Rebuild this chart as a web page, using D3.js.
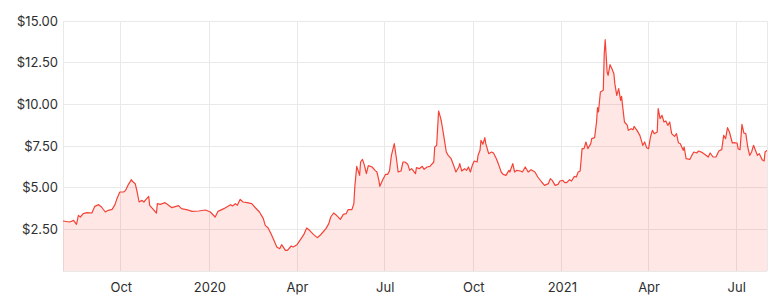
<!DOCTYPE html>
<html>
<head>
<meta charset="utf-8">
<script src="https://cdn.jsdelivr.net/npm/d3@7"></script>
<style>
  body { margin: 0; background: #fff; }
  svg text { font-family: "Inter", "Open Sans", sans-serif; fill: #2e2e2e; }
</style>
</head>
<body>
<div id="chart"></div>
<script>
// daily closes (irregular sampling)
var dates = [
  "2019-08-02","2019-08-09","2019-08-13","2019-08-16","2019-08-18","2019-08-20","2019-08-23","2019-08-27",
  "2019-09-01","2019-09-04","2019-09-08","2019-09-11","2019-09-15","2019-09-18","2019-09-22","2019-09-25",
  "2019-09-27","2019-09-30","2019-10-04","2019-10-06","2019-10-09","2019-10-12","2019-10-13","2019-10-16",
  "2019-10-18","2019-10-20","2019-10-23","2019-10-25","2019-10-27","2019-10-30","2019-10-31","2019-11-03",
  "2019-11-07","2019-11-08","2019-11-11","2019-11-16","2019-11-19","2019-11-23","2019-11-30","2019-12-03",
  "2019-12-08","2019-12-11","2019-12-14","2019-12-21","2019-12-28","2020-01-02","2020-01-07","2020-01-10",
  "2020-01-16","2020-01-19","2020-01-23","2020-01-25","2020-01-28","2020-01-30","2020-02-02","2020-02-05",
  "2020-02-09","2020-02-14","2020-02-18","2020-02-22","2020-02-26","2020-02-28","2020-03-02","2020-03-05",
  "2020-03-08","2020-03-11","2020-03-14","2020-03-16","2020-03-20","2020-03-22","2020-03-26","2020-03-28",
  "2020-04-01","2020-04-04","2020-04-08","2020-04-11","2020-04-14","2020-04-18","2020-04-22","2020-04-25",
  "2020-04-28","2020-05-01","2020-05-04","2020-05-06","2020-05-09","2020-05-12","2020-05-16","2020-05-19",
  "2020-05-22","2020-05-24","2020-05-28","2020-05-30","2020-05-31","2020-06-02","2020-06-05","2020-06-06",
  "2020-06-08","2020-06-10","2020-06-12","2020-06-14","2020-06-18","2020-06-21","2020-06-23","2020-06-25",
  "2020-06-26","2020-06-29","2020-07-02","2020-07-04","2020-07-06","2020-07-08","2020-07-11","2020-07-13",
  "2020-07-15","2020-07-18","2020-07-20","2020-07-22","2020-07-25","2020-07-27","2020-07-29","2020-08-02",
  "2020-08-03","2020-08-06","2020-08-09","2020-08-11","2020-08-14","2020-08-17","2020-08-21","2020-08-22",
  "2020-08-24","2020-08-26","2020-08-28","2020-08-29","2020-08-31","2020-09-03","2020-09-05","2020-09-08",
  "2020-09-10","2020-09-13","2020-09-16","2020-09-17","2020-09-19","2020-09-22","2020-09-24","2020-09-26",
  "2020-09-28","2020-09-30","2020-10-02","2020-10-05","2020-10-06","2020-10-08","2020-10-09","2020-10-11",
  "2020-10-13","2020-10-14","2020-10-17","2020-10-20","2020-10-22","2020-10-25","2020-10-27","2020-10-30",
  "2020-11-01","2020-11-04","2020-11-07","2020-11-08","2020-11-11","2020-11-13","2020-11-15","2020-11-19",
  "2020-11-21","2020-11-24","2020-11-27","2020-11-30","2020-12-04","2020-12-07","2020-12-11","2020-12-14",
  "2020-12-18","2020-12-20","2020-12-22","2020-12-25","2020-12-28","2020-12-30","2021-01-02","2021-01-04",
  "2021-01-06","2021-01-09","2021-01-11","2021-01-14","2021-01-16","2021-01-18","2021-01-20","2021-01-22",
  "2021-01-24","2021-01-26","2021-01-28","2021-01-31","2021-02-01","2021-02-04","2021-02-06","2021-02-07",
  "2021-02-08","2021-02-10","2021-02-13","2021-02-14","2021-02-15","2021-02-17","2021-02-18","2021-02-20",
  "2021-02-22","2021-02-24","2021-02-25","2021-02-27","2021-03-01","2021-03-03","2021-03-04","2021-03-05",
  "2021-03-07","2021-03-10","2021-03-11","2021-03-14","2021-03-16","2021-03-17","2021-03-20","2021-03-23",
  "2021-03-26","2021-03-28","2021-03-30","2021-04-01","2021-04-03","2021-04-05","2021-04-07","2021-04-10",
  "2021-04-11","2021-04-13","2021-04-15","2021-04-17","2021-04-19","2021-04-21","2021-04-23","2021-04-25",
  "2021-04-28","2021-04-30","2021-05-02","2021-05-04","2021-05-07","2021-05-08","2021-05-10","2021-05-14",
  "2021-05-16","2021-05-18","2021-05-21","2021-05-23","2021-05-27","2021-05-30","2021-06-02","2021-06-04",
  "2021-06-07","2021-06-10","2021-06-13","2021-06-16","2021-06-18","2021-06-20","2021-06-22","2021-06-24",
  "2021-06-27","2021-06-29","2021-07-02","2021-07-03","2021-07-05","2021-07-07","2021-07-09","2021-07-11",
  "2021-07-13","2021-07-15","2021-07-17","2021-07-19","2021-07-21","2021-07-23","2021-07-25","2021-07-28",
  "2021-07-30","2021-07-31","2021-08-02"
];
var prices = [
  3.00,2.94,3.04,2.80,3.34,3.24,3.44,3.50,
  3.48,3.88,3.98,3.84,3.54,3.64,3.70,3.98,
  4.34,4.74,4.74,4.84,5.20,5.48,5.38,5.24,
  4.74,4.14,4.24,4.14,4.28,4.48,3.94,3.74,
  3.48,4.04,4.00,4.10,3.98,3.80,3.92,3.74,
  3.68,3.64,3.58,3.60,3.66,3.54,3.24,3.58,
  3.74,3.84,3.98,3.90,4.04,3.94,4.30,4.14,
  4.10,4.04,3.78,3.54,3.14,2.74,2.58,2.24,
  1.84,1.44,1.34,1.58,1.24,1.24,1.50,1.44,
  1.58,1.84,2.18,2.58,2.44,2.20,2.00,2.14,
  2.34,2.54,2.84,3.24,3.48,3.34,3.10,3.40,
  3.44,3.68,3.68,4.04,5.04,6.28,5.74,6.54,
  6.70,6.34,5.84,6.32,6.24,6.04,5.94,5.44,
  5.08,5.48,5.80,5.80,6.00,6.94,7.64,6.84,
  5.94,6.00,6.54,6.54,6.40,6.04,6.14,5.84,
  6.20,6.14,6.28,6.10,6.24,6.28,6.54,7.44,
  7.54,9.60,9.20,8.94,8.24,7.14,6.94,6.74,
  6.44,5.94,6.24,6.44,6.00,6.14,6.04,6.24,
  5.94,6.34,6.60,6.54,6.94,7.24,7.84,7.60,
  8.00,7.64,7.04,7.14,7.08,6.74,6.44,5.94,
  5.80,5.74,6.04,5.94,6.44,5.94,6.04,6.00,
  5.94,6.24,5.94,6.08,5.94,5.64,5.34,5.14,
  5.24,5.54,5.44,5.14,5.20,5.40,5.44,5.30,
  5.30,5.48,5.40,5.68,5.64,5.94,6.00,7.34,
  7.34,7.74,7.34,7.64,7.94,8.00,8.94,9.80,
  9.54,10.74,10.84,13.04,13.88,11.94,11.74,12.38,
  12.14,11.84,11.24,10.54,10.94,10.24,10.48,9.94,
  8.94,8.74,8.44,8.54,8.48,8.68,8.44,8.14,
  7.54,7.74,7.40,7.34,8.04,8.44,8.24,8.34,
  9.74,9.14,9.34,8.94,9.00,8.74,8.94,8.24,
  8.08,8.24,7.70,7.64,7.24,7.44,6.74,6.70,
  6.94,7.14,7.08,7.20,7.10,6.98,6.84,7.08,
  6.84,6.84,7.20,7.28,8.14,7.94,8.60,8.34,
  7.68,7.70,7.68,7.34,7.28,8.80,8.28,8.24,
  7.44,6.94,7.14,7.54,7.24,6.94,7.04,6.68,
  6.60,7.14,7.24
];
var yTicks = [0, 2.5, 5, 7.5, 10, 12.5, 15];
var dateRange = ["2019-08-02", "2021-08-02"];

var width = 780, height = 301;
var margin = {top: 21, right: 13, bottom: 30, left: 63};
var lineColor = "#f44336";
var parse = d3.timeParse("%Y-%m-%d");

var data = dates.map(function(d, i) { return {date: parse(d), value: prices[i]}; });

var x = d3.scaleTime()
  .domain(dateRange.map(parse))
  .range([margin.left, width - margin.right]);
var y = d3.scaleLinear()
  .domain([0, 15])
  .range([height - margin.bottom, margin.top]);

var svg = d3.select("#chart").append("svg")
  .attr("width", width)
  .attr("height", height);

var xTicks = x.ticks(d3.timeMonth.every(3));

// grid
var grid = svg.append("g").attr("class", "grid")
  .attr("stroke", "#e9e9e9")
  .attr("stroke-width", 1)
  .attr("shape-rendering", "crispEdges");
grid.selectAll(".hgrid")
  .data(yTicks)
  .enter().append("line")
  .attr("x1", margin.left)
  .attr("x2", width - margin.right)
  .attr("y1", function(d) { return y(d); })
  .attr("y2", function(d) { return y(d); });
grid.selectAll(".vgrid")
  .data(xTicks)
  .enter().append("line")
  .attr("x1", function(d) { return x(d); })
  .attr("x2", function(d) { return x(d); })
  .attr("y1", margin.top)
  .attr("y2", height - margin.bottom);
grid.selectAll(".edge")
  .data(x.range())
  .enter().append("line")
  .attr("x1", function(d) { return d; })
  .attr("x2", function(d) { return d; })
  .attr("y1", margin.top)
  .attr("y2", height - margin.bottom);

var area = d3.area()
  .x(function(d) { return x(d.date); })
  .y0(y(0))
  .y1(function(d) { return y(d.value); });
var line = d3.line()
  .x(function(d) { return x(d.date); })
  .y(function(d) { return y(d.value); });

svg.append("path")
  .datum(data)
  .attr("fill", lineColor)
  .attr("fill-opacity", 0.13)
  .attr("d", area);
svg.append("path")
  .datum(data)
  .attr("fill", "none")
  .attr("stroke", lineColor)
  .attr("stroke-width", 1.2)
  .attr("stroke-linejoin", "round")
  .attr("d", line);

// axes
var fmt = function(d) { return d.getMonth() === 0 ? d3.timeFormat("%Y")(d) : d3.timeFormat("%b")(d); };
svg.append("g")
  .attr("transform", "translate(0," + (height - margin.bottom) + ")")
  .call(d3.axisBottom(x).tickValues(xTicks).tickFormat(fmt).tickSize(0).tickPadding(12))
  .call(function(g) { g.select(".domain").remove(); })
  .selectAll("text")
  .style("font-size", "13px");

svg.append("g")
  .attr("transform", "translate(" + margin.left + ",0)")
  .call(d3.axisLeft(y).tickValues(yTicks.slice(1)).tickFormat(function(d) { return "$" + d.toFixed(2); }).tickSize(0).tickPadding(5))
  .call(function(g) { g.select(".domain").remove(); })
  .selectAll("text")
  .style("font-size", "13px");
</script>
</body>
</html>
